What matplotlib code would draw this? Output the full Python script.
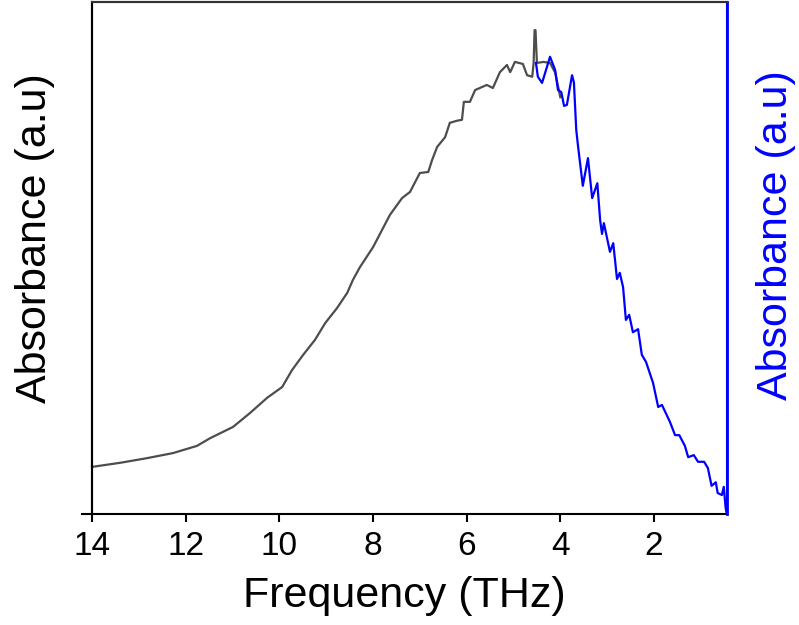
import matplotlib
matplotlib.use("Agg")
import matplotlib.pyplot as plt

plt.rcParams['font.family'] = ['Liberation Sans', 'DejaVu Sans']

# Gray (measured) spectrum: frequency (THz), absorbance (a.u.)
gray_freq = [14.0, 13.4, 12.83, 12.27, 11.76, 11.48, 10.99, 10.63, 10.26, 9.94,
             9.73, 9.49, 9.24, 9.02, 8.77, 8.55, 8.43, 8.28, 8.0, 7.64,
             7.38, 7.21, 7.0, 6.82, 6.74, 6.63, 6.46, 6.36, 6.21, 6.10,
             6.06, 5.93, 5.82, 5.57, 5.44, 5.29, 5.14, 5.07, 4.97, 4.80,
             4.71, 4.60, 4.57, 4.55, 4.53, 4.50, 4.36, 4.22, 4.11, 4.00]
gray_abs = [0.092, 0.100, 0.109, 0.119, 0.133, 0.148, 0.170, 0.197, 0.227, 0.248,
            0.281, 0.311, 0.340, 0.373, 0.402, 0.432, 0.457, 0.482, 0.521, 0.584,
            0.617, 0.629, 0.666, 0.668, 0.691, 0.717, 0.736, 0.764, 0.768, 0.770,
            0.805, 0.805, 0.828, 0.838, 0.832, 0.863, 0.877, 0.863, 0.883, 0.879,
            0.857, 0.854, 0.881, 0.945, 0.945, 0.881, 0.883, 0.881, 0.862, 0.814]

# Blue spectrum
blue_freq = [4.52, 4.48, 4.39, 4.22, 4.11, 4.05, 3.98, 3.92, 3.86, 3.75,
             3.71, 3.66, 3.62, 3.52, 3.41, 3.32, 3.21, 3.15, 3.11, 3.07,
             2.94, 2.87, 2.79, 2.73, 2.66, 2.60, 2.53, 2.45, 2.34, 2.26,
             2.17, 2.02, 1.91, 1.83, 1.66, 1.55, 1.46, 1.34, 1.27, 1.15,
             1.06, 0.93, 0.85, 0.77, 0.68, 0.64, 0.55, 0.51, 0.47, 0.45]
blue_abs = [0.881, 0.854, 0.842, 0.893, 0.867, 0.828, 0.824, 0.797, 0.799, 0.857,
            0.843, 0.750, 0.717, 0.641, 0.695, 0.617, 0.646, 0.574, 0.547, 0.568,
            0.512, 0.529, 0.459, 0.471, 0.443, 0.379, 0.389, 0.355, 0.361, 0.311,
            0.297, 0.256, 0.209, 0.213, 0.180, 0.154, 0.154, 0.133, 0.111, 0.115,
            0.102, 0.102, 0.090, 0.055, 0.062, 0.041, 0.037, 0.053, 0.012, 0.002]

xticks = [14, 12, 10, 8, 6, 4, 2]

fig = plt.figure(figsize=(7.99, 6.25), dpi=100)
ax = fig.add_axes([82/799, 1 - 514/625, 645/799, 512/625])

ax.plot(gray_freq, gray_abs, color='#4d4d4d', lw=1.6)
ax.set_xlim(14.214, 0.441)
ax.set_ylim(0, 1)

ax2 = ax.twinx()
ax2.plot(blue_freq, blue_abs, color='#0000ff', lw=1.6)
ax2.set_ylim(0, 1)
ax2.set_xlim(14.214, 0.441)

ax.set_xticks(xticks)
ax.set_xticklabels([str(t) for t in xticks])
ax.tick_params(axis='x', direction='out', length=6, width=1.5, labelsize=24, pad=6)
ax.tick_params(axis='y', left=False, labelleft=False)
ax2.tick_params(axis='y', right=False, labelright=False)

for a in (ax, ax2):
    a.spines['left'].set_position(('data', 14))
    a.spines['top'].set_bounds(14, 0.441)
    for s in a.spines.values():
        s.set_linewidth(1.5)
ax.spines['top'].set_color('#333333')
ax2.spines['top'].set_color('#333333')
ax.spines['right'].set_color('#0000ff')
ax2.spines['right'].set_color('#0000ff')
ax2.spines['right'].set_linewidth(2)
ax2.spines['bottom'].set_visible(False)

ax.set_xlabel('Frequency (THz)', fontsize=31, labelpad=10)
ax.set_ylabel('Absorbance (a.u)', fontsize=31)
ax.yaxis.set_label_coords(-0.042, 0.539)
ax2.set_ylabel('Absorbance (a.u)', fontsize=31, color='#0000ff')
ax2.yaxis.set_label_coords(1.045, 0.545)

fig.savefig('out.png', dpi=100)
